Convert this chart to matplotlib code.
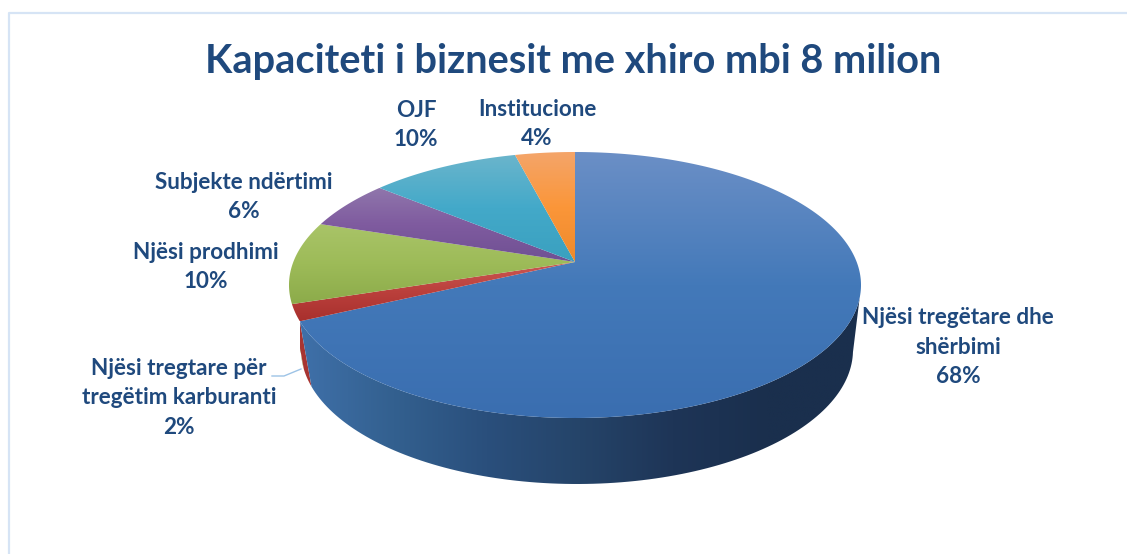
import numpy as np
import matplotlib
matplotlib.use("Agg")
import matplotlib.pyplot as plt
from matplotlib.colors import LinearSegmentedColormap
from matplotlib.patches import Polygon

plt.rcParams['font.family'] = ['Lato', 'DejaVu Sans']

title = "Kapaciteti i biznesit me xhiro mbi 8 milion"
categories = [
    "Njësi tregëtare dhe\nshërbimi",
    "Njësi tregtare për\ntregëtim karburanti",
    "Njësi prodhimi",
    "Subjekte ndërtimi",
    "OJF",
    "Institucione",
]
shares = [68, 2, 10, 6, 10, 4]

# top, middle, lower shade of each slice
top_colors = [
    ["#6b8fc6", "#4379b9", "#3a6eb0"],
    ["#cc5955", "#bb403c", "#a8302d"],
    ["#a9c468", "#9dbb58", "#8cab4a"],
    ["#9077ac", "#7f5b9f", "#6f5093"],
    ["#6bb5cc", "#43a9c9", "#3aa0bf"],
    ["#f4a56a", "#fb9639", "#ee8a2c"],
]
wall_colors = [
    ["#3f70a9", "#33608f", "#2a4f7c", "#254469", "#1e3557", "#1a2f4d", "#1a2f4d"],
    ["#a83532", "#a83532"],
    ["#7f9a42", "#7f9a42"],
]

# label position in pixels (centre x, centre y)
label_pos = [(958, 347), (179, 398), (206, 267), (244, 197), (416, 125), (537, 124)]

# geometry of the drawn pie, pixels
cx, cy, rx, ry = 575, 285, 286, 133
cx2, cy2, rx2, ry2 = 577, 350, 276, 134
apex_y = 262
boost = (cy - apex_y) / ry

fig = plt.figure(figsize=(11.27, 5.54), dpi=100)
ax = fig.add_axes([0, 0, 1, 1])


def phi_of(frac):
    # clockwise from the top, seen in perspective so the centre moves up
    th = 2 * np.pi * np.asarray(frac)
    x, y = np.sin(th), np.cos(th)
    den = 1 + boost * y
    xp = x * np.sqrt(1 - boost**2) / den
    yp = (y + boost) / den
    return np.arctan2(-yp, xp)


def upper(phi):
    return np.column_stack([cx + rx * np.cos(phi), cy + ry * np.sin(phi)])


def lower(phi):
    return np.column_stack([cx2 + rx2 * np.cos(phi), cy2 + ry2 * np.sin(phi)])


def fill_gradient(points, colors, vertical=True, span=None):
    patch = Polygon(points, closed=True, facecolor="none", edgecolor="none")
    ax.add_patch(patch)
    x0, y0 = points.min(axis=0)
    x1, y1 = points.max(axis=0)
    cmap = LinearSegmentedColormap.from_list("g", colors)
    ramp = np.linspace(0, 1, 256)
    if vertical:
        ramp = ramp[:, None]
    else:
        ramp = ramp[None, :]
        if span is not None:
            x0, x1 = span
    im = ax.imshow(ramp, cmap=cmap, extent=[x0, x1, y1, y0], aspect="auto",
                   interpolation="bilinear", zorder=2)
    im.set_clip_path(patch)


fractions = np.cumsum([0] + shares) / sum(shares)

# side wall, only what faces the viewer
for i in [2, 1, 0]:
    fr = np.linspace(fractions[i], fractions[i + 1], 200)
    phi = np.unwrap(phi_of(fr))
    phi = phi[(np.sin(phi) >= 0)]
    if len(phi) < 2:
        continue
    pts = np.vstack([upper(phi), lower(phi)[::-1]])
    fill_gradient(pts, wall_colors[i], vertical=False, span=(300, 860))

# top face
for i in range(len(shares)):
    fr = np.linspace(fractions[i], fractions[i + 1], 300)
    arc = upper(np.unwrap(phi_of(fr)))
    pts = np.vstack([[[cx, apex_y]], arc])
    patch_colors = top_colors[i]
    fill_gradient(pts, patch_colors)

# chart frame
ax.plot([8.5, 8.5, 1127], [554, 12.5, 12.5], color="#d6e4f5", lw=1.6, zorder=1)

# leader line of the small slice
ax.plot([272, 284, 301], [376, 376, 369], color="#9dc3e6", lw=1, zorder=3)

ax.text(573, 62, title, ha="center", va="center", fontsize=28.6,
        fontweight="bold", color="#1f497d")

for name, share, (lx, ly) in zip(categories, shares, label_pos):
    ax.text(lx, ly, f"{name}\n{share}%", ha="center", va="center", fontsize=16.2,
            fontweight="bold", color="#1f497d", linespacing=1.48, zorder=4)

ax.set_xlim(0, 1127)
ax.set_ylim(554, 0)
ax.axis("off")

fig.savefig("out.png", dpi=100, facecolor="white")
